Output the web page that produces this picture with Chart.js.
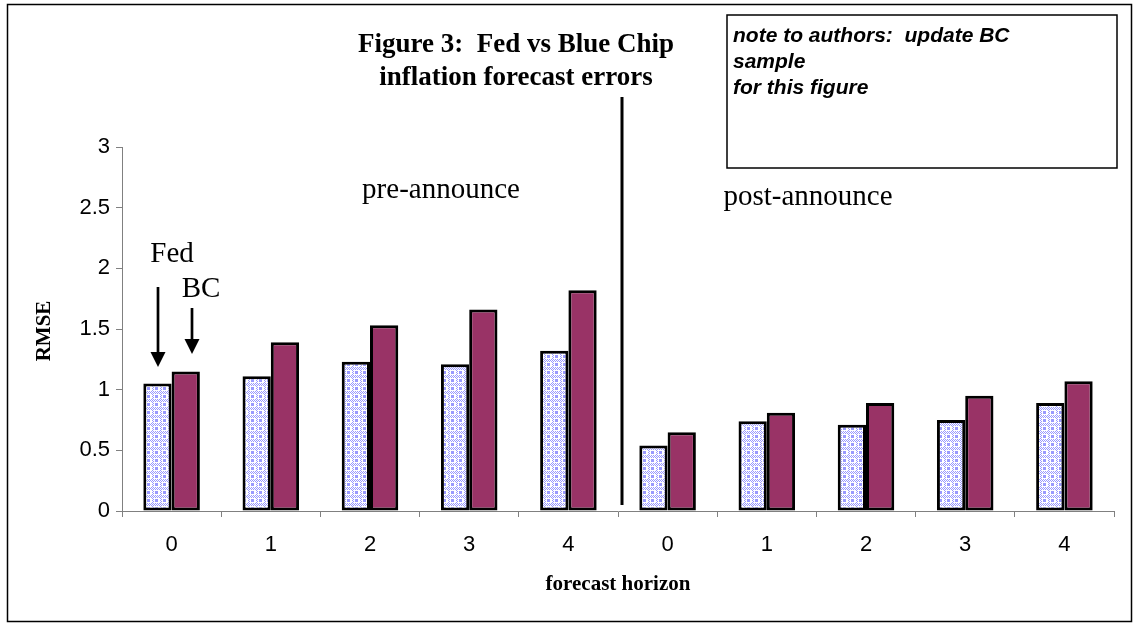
<!DOCTYPE html>
<html>
<head>
<meta charset="utf-8">
<script src="https://cdn.jsdelivr.net/npm/chart.js@4.4.1/dist/chart.umd.min.js"></script>
<style>
  body { margin: 0; background: #fff; }
  #wrap { width: 1135px; height: 625px; }
</style>
</head>
<body>
<div id="wrap"><canvas id="rmseChart" width="1135" height="625"></canvas></div>
<script>
// forecast horizons, pre-announce then post-announce
const horizons = ["0", "1", "2", "3", "4", "0", "1", "2", "3", "4"];
const fedRmse = [1.05, 1.11, 1.23, 1.21, 1.32, 0.54, 0.74, 0.71, 0.75, 0.89];
const bcRmse = [1.15, 1.39, 1.53, 1.66, 1.82, 0.65, 0.81, 0.89, 0.95, 1.07];
const yTicks = [0, 0.5, 1, 1.5, 2, 2.5, 3];

const SERIF = "'Liberation Serif', 'Times New Roman', serif";
const SANS = "'Liberation Sans', Arial, sans-serif";

// checkered lavender fill like the old excel pattern
function makeFedPattern() {
  const c = document.createElement("canvas");
  c.width = 8;
  c.height = 8;
  const g = c.getContext("2d");
  g.fillStyle = "#ffffff";
  g.fillRect(0, 0, 8, 8);
  g.fillStyle = "#9999ff";
  for (let y = 0; y < 8; y++) {
    for (let x = 0; x < 8; x++) {
      if ((x + y) % 2 === 0 && (y < 2 || y > 6 || x < 2)) g.fillRect(x, y, 1, 1);
    }
  }
  g.fillRect(3, 3, 3, 3);
  return document.getElementById("rmseChart").getContext("2d").createPattern(c, "repeat");
}

const overlay = {
  id: "overlay",
  afterDraw(chart) {
    const ctx = chart.ctx;
    const x = chart.scales.x;
    ctx.save();

    // outer frame
    ctx.strokeStyle = "#000";
    ctx.lineWidth = 1.5;
    ctx.strokeRect(7.5, 4.5, 1124, 617);

    // title
    ctx.fillStyle = "#000";
    ctx.textAlign = "center";
    ctx.textBaseline = "middle";
    ctx.font = "bold 27px " + SERIF;
    ctx.fillText("Figure 3:  Fed vs Blue Chip", 516, 45);
    ctx.fillText("inflation forecast errors", 516, 78);

    // note box
    ctx.lineWidth = 1.5;
    ctx.strokeRect(727, 15, 390, 153);
    ctx.textAlign = "left";
    ctx.font = "italic bold 21px " + SANS;
    ctx.fillText("note to authors:  update BC", 733, 36);
    ctx.fillText("sample", 733, 62);
    ctx.fillText("for this figure", 733, 88);

    // divider between pre and post
    const divX = (x.getPixelForValue(4) + x.getPixelForValue(5)) / 2 + 4;
    ctx.lineWidth = 3;
    ctx.beginPath();
    ctx.moveTo(divX, 97);
    ctx.lineTo(divX, 505);
    ctx.stroke();

    // period labels
    ctx.textAlign = "center";
    ctx.font = "29px " + SERIF;
    ctx.fillText("pre-announce", 441, 190);
    ctx.fillText("post-announce", 808, 197);

    // Fed / BC pointers
    ctx.fillText("Fed", 172, 254);
    ctx.fillText("BC", 201, 289);
    drawArrow(ctx, 158, 287, 367);
    drawArrow(ctx, 192, 308, 354);

    // axis titles
    ctx.font = "bold 21px " + SERIF;
    ctx.fillText("forecast horizon", (chart.chartArea.left + chart.chartArea.right) / 2, 585);
    ctx.translate(45, 331);
    ctx.rotate(-Math.PI / 2);
    ctx.fillText("RMSE", 0, 0);
    ctx.restore();
  },
};

function drawArrow(ctx, ax, y0, y1) {
  ctx.lineWidth = 2.7;
  ctx.beginPath();
  ctx.moveTo(ax, y0);
  ctx.lineTo(ax, y1 - 12);
  ctx.stroke();
  ctx.beginPath();
  ctx.moveTo(ax - 7.5, y1 - 15);
  ctx.lineTo(ax + 7.5, y1 - 15);
  ctx.lineTo(ax, y1);
  ctx.closePath();
  ctx.fill();
}

const ctx = document.getElementById("rmseChart").getContext("2d");
new Chart(ctx, {
  type: "bar",
  data: {
    labels: horizons,
    datasets: [
      {
        label: "Fed",
        data: fedRmse,
        backgroundColor: makeFedPattern(),
        borderColor: "#000",
        borderWidth: 3,
        borderSkipped: false,
        categoryPercentage: 0.57,
        barPercentage: 1,
      },
      {
        label: "BC",
        data: bcRmse,
        backgroundColor: "#993366",
        borderColor: "#000",
        borderWidth: 3,
        borderSkipped: false,
        categoryPercentage: 0.57,
        barPercentage: 1,
      },
    ],
  },
  options: {
    responsive: false,
    animation: false,
    layout: { padding: { top: 147, right: 21, left: 0, bottom: 0 } },
    plugins: {
      legend: { display: false },
      tooltip: { enabled: false },
    },
    scales: {
      x: {
        grid: { drawOnChartArea: false, tickLength: 6, color: "#808080" },
        border: { color: "#808080", width: 1 },
        ticks: { color: "#000", padding: 15, font: { family: SANS, size: 22 } },
        afterFit: (scale) => { scale.height = 114; },
      },
      y: {
        min: 0,
        max: 3,
        grid: { drawOnChartArea: false, tickLength: 6, color: "#808080" },
        border: { color: "#808080", width: 1 },
        afterBuildTicks: (scale) => { scale.ticks = yTicks.map((v) => ({ value: v })); },
        ticks: {
          color: "#000",
          padding: 6,
          font: { family: SANS, size: 22 },
          callback: (v) => String(v),
        },
        afterFit: (scale) => { scale.width = 122; },
      },
    },
  },
  plugins: [overlay],
});
</script>
</body>
</html>
